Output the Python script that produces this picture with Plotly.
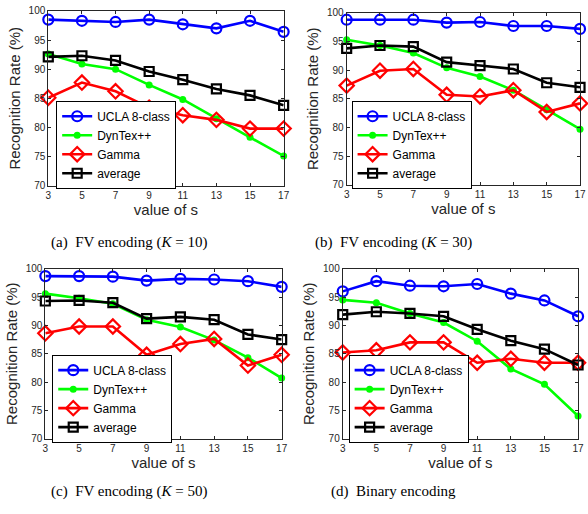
import plotly.graph_objects as go

s_values = [3, 5, 7, 9, 11, 13, 15, 17]
series_names = ["UCLA 8-class", "DynTex++", "Gamma", "average"]

# (a) FV encoding K=10
a_ucla = [98.5, 98.3, 98.1, 98.5, 97.7, 97.0, 98.3, 96.4]
a_dyntex = [92.6, 90.9, 90.0, 87.3, 84.8, 81.5, 78.3, 75.1]
a_gamma = [85.1, 87.7, 86.2, 83.4, 82.1, 81.3, 79.8, 79.8]
a_avg = [92.1, 92.3, 91.5, 89.6, 88.2, 86.6, 85.5, 83.8]

# (b) FV encoding K=30
b_ucla = [98.8, 98.8, 98.8, 98.3, 98.4, 97.7, 97.7, 97.2]
b_dyntex = [95.3, 94.3, 93.0, 90.4, 88.9, 86.5, 83.1, 79.7]
b_gamma = [87.3, 89.9, 90.2, 85.7, 85.4, 86.5, 82.7, 84.2]
b_avg = [93.8, 94.3, 94.1, 91.4, 90.8, 90.2, 87.8, 87.0]

# (c) FV encoding K=50
c_ucla = [98.7, 98.7, 98.6, 97.9, 98.2, 98.1, 97.8, 96.8]
c_dyntex = [95.6, 94.8, 93.8, 91.0, 89.7, 87.4, 84.3, 80.7]
c_gamma = [88.6, 89.8, 89.8, 84.8, 86.7, 87.6, 82.9, 84.8]
c_avg = [94.3, 94.4, 94.0, 91.2, 91.5, 91.0, 88.4, 87.5]

# (d) Binary encoding
d_ucla = [96.0, 97.8, 97.0, 96.9, 97.3, 95.6, 94.4, 91.6]
d_dyntex = [94.5, 94.0, 92.1, 90.5, 87.2, 82.3, 79.6, 74.0]
d_gamma = [85.2, 85.6, 87.0, 87.0, 83.4, 84.1, 83.4, 83.4]
d_avg = [91.9, 92.4, 92.1, 91.6, 89.3, 87.3, 85.8, 83.0]

captions = [
    "(a)  FV encoding (<i>K</i> = 10)",
    "(b)  FV encoding (<i>K</i> = 30)",
    "(c)  FV encoding (<i>K</i> = 50)",
    "(d)  Binary encoding",
]

W, H = 588, 514
def px_x(v):
    return v / W
def px_y(v):
    return 1 - v / H

# panel boxes in pixels: left, right, top, bottom
panels = [
    (46, 285, 5, 184),
    (349, 586, 7, 183),
    (43, 283, 269, 443),
    (345, 584, 269, 443),
]
legend_pos = [(54, 97), (354, 97), (50, 357), (351, 357)]
caption_pos = [(128, 242), (397, 242), (128, 497), (397, 497)]

data_sets = [
    (a_ucla, a_dyntex, a_gamma, a_avg),
    (b_ucla, b_dyntex, b_gamma, b_avg),
    (c_ucla, c_dyntex, c_gamma, c_avg),
    (d_ucla, d_dyntex, d_gamma, d_avg),
]

styles = [
    dict(color="#0000FF", symbol="circle-open", size=10, mlw=2.2),
    dict(color="#00FF00", symbol="circle", size=7, mlw=0),
    dict(color="#FF0000", symbol="diamond-open", size=11, mlw=2.2),
    dict(color="#000000", symbol="square-open", size=9, mlw=2.2),
]

fig = go.Figure()
axis_color = "#262626"
tick_font = dict(family="Liberation Sans, Arial, sans-serif", size=10, color=axis_color)
title_font = dict(family="Liberation Sans, Arial, sans-serif", size=15, color=axis_color)

layout = {}
for i, (box, ds) in enumerate(zip(panels, data_sets)):
    n = "" if i == 0 else str(i + 1)
    xa, ya = "x" + n, "y" + n
    lg = "legend" + n
    for name, vals, st in zip(series_names, ds, styles):
        fig.add_trace(go.Scatter(
            x=s_values, y=vals, name=name, mode="lines+markers",
            xaxis=xa, yaxis=ya, legend=lg, cliponaxis=False,
            line=dict(color=st["color"], width=2.6),
            marker=dict(symbol=st["symbol"], size=st["size"], color=st["color"],
                        line=dict(color=st["color"], width=st["mlw"])),
        ))
    l, r, t, b = box
    layout["xaxis" + n] = dict(
        domain=[px_x(l), px_x(r)], anchor=ya, range=[3, 17],
        tickvals=s_values, ticktext=[str(v) for v in s_values],
        ticks="inside", ticklen=3, tickcolor=axis_color, mirror="ticks",
        showline=True, linecolor=axis_color, linewidth=1, showgrid=False, zeroline=False,
        tickfont=tick_font,
        title=dict(text="value of s", font=title_font, standoff=3),
    )
    layout["yaxis" + n] = dict(
        domain=[px_y(b), px_y(t)], anchor=xa, range=[70, 100],
        tickvals=[70, 75, 80, 85, 90, 95, 100],
        ticks="inside", ticklen=3, tickcolor=axis_color, mirror="ticks",
        showline=True, linecolor=axis_color, linewidth=1, showgrid=False, zeroline=False,
        tickfont=tick_font,
        title=dict(text="Recognition Rate (%)", font=title_font, standoff=4),
    )
    lx, ly = legend_pos[i]
    layout[lg] = dict(
        x=px_x(lx), y=px_y(ly), xanchor="left", yanchor="top",
        bgcolor="white", bordercolor="#000000", borderwidth=1,
        font=dict(family="Liberation Sans, Arial, sans-serif", size=12, color="#000000"),
        itemwidth=30, tracegroupgap=0,
    )

annotations = []
for cap, (cx, cy) in zip(captions, caption_pos):
    annotations.append(dict(
        text=cap, x=px_x(cx), y=px_y(cy), xref="paper", yref="paper",
        xanchor="center", yanchor="middle", showarrow=False,
        font=dict(family="Liberation Serif, Times New Roman, serif", size=15, color="#000000"),
    ))

fig.update_layout(
    width=W, height=H, margin=dict(l=0, r=0, t=0, b=0),
    paper_bgcolor="white", plot_bgcolor="white",
    annotations=annotations, showlegend=True,
    **layout,
)

fig.write_html("out.html", config={"displayModeBar": False})

# remove the browser's default body margin so the figure sits at the page origin
with open("out.html", "r", encoding="utf-8") as f:
    html = f.read()
html = html.replace("<head>", "<head><style>html,body{margin:0;padding:0;overflow:hidden;}</style>", 1)
with open("out.html", "w", encoding="utf-8") as f:
    f.write(html)
